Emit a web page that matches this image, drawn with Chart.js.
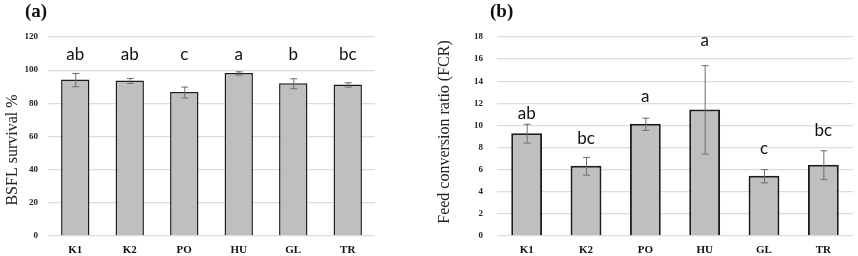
<!DOCTYPE html>
<html>
<head>
  <title>BSFL survival and FCR</title>
  <script src="https://cdn.jsdelivr.net/npm/chart.js"></script>
  <style>
    body { margin: 0; background: #fff; width: 858px; height: 256px; position: relative; overflow: hidden; }
    .panel { position: absolute; top: 0; }
    #boxA { left: 0; }
    #boxB { left: 430px; }
    .tag { position: absolute; top: 0px; font: bold 19px "Liberation Serif", serif; color: #111; }
  </style>
</head>
<body>
  <div class="panel" id="boxA"><canvas id="chartA" width="430" height="256"></canvas></div>
  <div class="panel" id="boxB"><canvas id="chartB" width="428" height="256"></canvas></div>
  <div class="tag" style="left:25px;">(a)</div>
  <div class="tag" style="left:490px;">(b)</div>

  <script>
    // values
    const groups = ['K1', 'K2', 'PO', 'HU', 'GL', 'TR'];

    const survival = [94.3, 93.8, 86.8, 98.3, 92.1, 91.4];
    const survivalErr = [4.0, 1.5, 3.3, 1.0, 3.0, 1.3];
    const survivalLetters = ['ab', 'ab', 'c', 'a', 'b', 'bc'];
    const survivalLetterY = [109.5, 109.5, 109.5, 109.5, 109.5, 109.5];

    const fcr = [9.3, 6.35, 10.15, 11.45, 5.45, 6.45];
    const fcrErr = [0.85, 0.8, 0.55, 4.0, 0.6, 1.3];
    const fcrLetters = ['ab', 'bc', 'a', 'a', 'c', 'bc'];
    const fcrLetterY = [11.1, 8.8, 12.6, 17.7, 7.9, 9.5];

    Chart.defaults.devicePixelRatio = 1;

    // error bars, significance letters and the rotated y title
    const extras = {
      id: 'extras',
      afterDatasetsDraw(chart, args, opts) {
        const ctx = chart.ctx;
        const meta = chart.getDatasetMeta(0);
        const y = chart.scales.y;
        ctx.save();
        meta.data.forEach((bar, i) => {
          const v = chart.data.datasets[0].data[i];
          const e = opts.err[i];
          const top = y.getPixelForValue(v + e);
          const bot = y.getPixelForValue(v - e);
          ctx.strokeStyle = '#6e6e6e';
          ctx.lineWidth = 1;
          ctx.beginPath();
          ctx.moveTo(bar.x + 0.5, top);
          ctx.lineTo(bar.x + 0.5, bot);
          ctx.moveTo(bar.x - 3, top + 0.5);
          ctx.lineTo(bar.x + 4, top + 0.5);
          ctx.moveTo(bar.x - 3, bot + 0.5);
          ctx.lineTo(bar.x + 4, bot + 0.5);
          ctx.stroke();

          ctx.fillStyle = '#111';
          ctx.font = '17px Lato, "Open Sans", sans-serif';
          ctx.textAlign = 'center';
          ctx.textBaseline = 'middle';
          ctx.fillText(opts.letters[i], bar.x, y.getPixelForValue(opts.letterY[i]));
        });

        ctx.translate(opts.titleX, opts.titleY);
        ctx.rotate(-Math.PI / 2);
        ctx.fillStyle = '#222';
        ctx.font = '16px "Liberation Serif", serif';
        ctx.textAlign = 'center';
        ctx.textBaseline = 'middle';
        ctx.fillText(opts.title, 0, 0);
        ctx.restore();
      }
    };

    function makeChart(id, values, err, letters, letterY, yMax, yStep, axisW, rightPad, border, title, titleX, titleY, tickPad) {
      return new Chart(document.getElementById(id), {
        type: 'bar',
        data: {
          labels: groups,
          datasets: [{
            data: values,
            backgroundColor: '#bfbfbf',
            borderColor: '#1c1c1c',
            borderWidth: border,
            categoryPercentage: 1,
            barPercentage: 0.52
          }]
        },
        options: {
          responsive: false,
          animation: false,
          layout: { padding: { left: 0, right: rightPad, top: 37, bottom: 0 } },
          plugins: {
            legend: { display: false },
            tooltip: { enabled: false },
            extras: { err: err, letters: letters, letterY: letterY, title: title, titleX: titleX, titleY: titleY }
          },
          scales: {
            x: {
              grid: { display: false, drawTicks: false },
              border: { display: false },
              ticks: { color: '#111', padding: 8, font: { family: '"Liberation Serif", serif', size: 11, weight: 'bold' } },
              afterFit: s => { s.height = 20; }
            },
            y: {
              min: 0,
              max: yMax,
              grid: { color: '#dcdcdc', lineWidth: 1.3, drawTicks: false },
              border: { display: false },
              ticks: { stepSize: yStep, color: '#222', padding: tickPad, font: { family: '"Liberation Serif", serif', size: 9, weight: 'bold' } },
              afterFit: s => { s.width = axisW; }
            }
          }
        },
        plugins: [extras]
      });
    }

    makeChart('chartA', survival, survivalErr, survivalLetters, survivalLetterY, 120, 20, 48, 55, 1.5,
      'BSFL survival %', 13, 150, 10);
    makeChart('chartB', fcr, fcrErr, fcrLetters, fcrLetterY, 18, 2, 67, 5, 2,
      'Feed conversion ratio (FCR)', 15, 132, 14);
  </script>
</body>
</html>
